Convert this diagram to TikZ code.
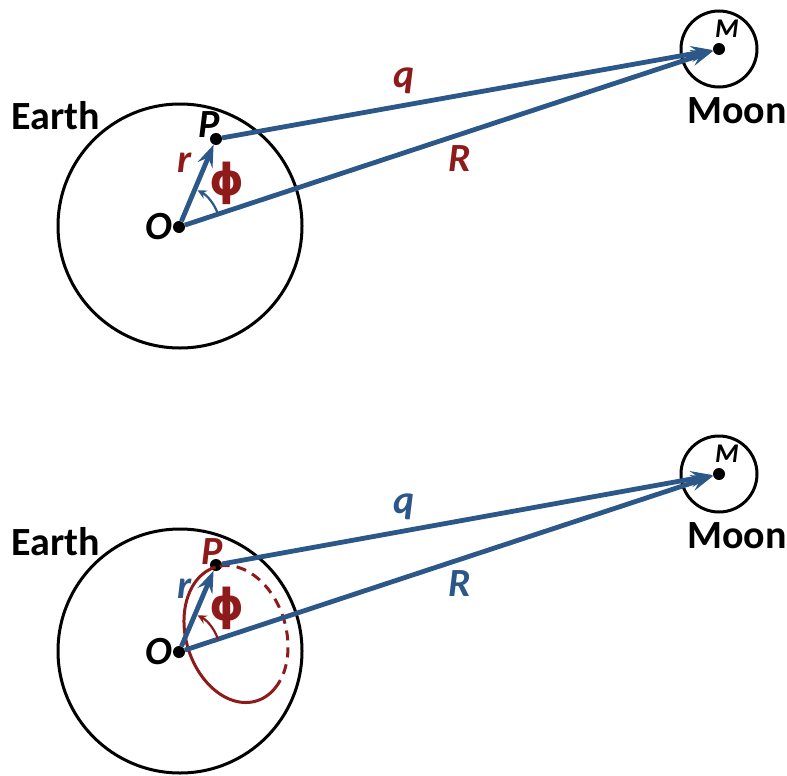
\documentclass[tikz,border=0pt]{standalone}
\usepackage{fontspec}
\setmainfont{Carlito}
\newfontfamily\greekfont{DejaVu Sans}
\usetikzlibrary{positioning,arrows.meta}
\definecolor{vec}{HTML}{2B5789}
\definecolor{ang}{HTML}{8E1A1A}

\begin{document}
\begin{tikzpicture}[x=1pt, y=1pt,
  node distance=2pt,
  dot/.style={circle, fill=black, minimum size=12pt, inner sep=0pt},
  body/.style={circle, draw, line width=3pt, inner sep=0pt},
  vecline/.style={draw=vec, line width=4.8pt, -{Stealth[length=22pt,width=16pt,inset=8pt]}},
  anglearc/.style={line width=2.2pt, -{Stealth[length=9pt,width=9pt,inset=3pt]}},
  orbit/.style={draw=ang, line width=3pt},
  bodyname/.style={font=\fontsize{40}{46}\selectfont\bfseries},
  sym/.style={font=\fontsize{40}{46}\selectfont\bfseries\itshape, inner sep=1pt},
  small/.style={font=\fontsize{27}{30}\selectfont\bfseries\itshape, inner sep=1pt},
  phi/.style={font=\greekfont\fontsize{44}{48}\selectfont\bfseries, text=ang}]
\useasboundingbox (0,0) rectangle (787,-776);
% upper sketch
\node[body, minimum size=244pt] (earth1) at (180,-226) {};
\node[body, minimum size=76pt] (moon1) at (719,-49) {};
\node[dot] (O1) at (179,-227) {};
\node[dot] (P1) at (216,-139) {};
\node[dot] (M1) at (719,-49) {};
\draw[vecline] (O1) -- node[sym, left=11pt, pos=0.76, text=ang] {r} (P1);
\draw[vecline] (P1) -- node[sym, above=8pt, pos=0.37, text=ang] {q} (M1);
\draw[vecline] (O1) -- node[sym, below=8pt, pos=0.52, text=ang] {R} (M1);
\draw[anglearc, draw=vec] (O1) ++(18.2:41) arc[start angle=18.2, end angle=63, radius=41];
\path (O1) ++(42.5:65) node[phi] {ϕ};
\node[sym, left=-1pt of O1] {O};
\node[sym, above=-6pt of P1, xshift=-7pt] {P};
\node[small, above=4pt of M1, xshift=8pt] {M};
\node[bodyname] at (56,-116) {Earth};
\node[bodyname, below=6pt of moon1, xshift=18pt] {Moon};
% lower sketch
\node[body, minimum size=244pt] (earth2) at (180,-651) {};
\node[body, minimum size=76pt] (moon2) at (719,-474) {};
\node[dot] (O2) at (179,-652) {};
\node[dot] (P2) at (216,-565) {};
\node[dot] (M2) at (719,-474) {};
\begin{scope}[shift={(236,-634)}, rotate=17]
  \draw[orbit] (90:50 and 70) arc[start angle=90, end angle=295, x radius=50, y radius=70];
  \draw[orbit, dash pattern=on 10pt off 7pt] (295:50 and 70) arc[start angle=295, end angle=450, x radius=50, y radius=70];
\end{scope}
\draw[vecline] (O2) -- node[sym, left=11pt, pos=0.76, text=vec] {r} (P2);
\draw[vecline] (P2) -- node[sym, above=8pt, pos=0.37, text=vec] {q} (M2);
\draw[vecline] (O2) -- node[sym, below=8pt, pos=0.52, text=vec] {R} (M2);
\draw[anglearc, draw=ang] (O2) ++(18.2:41) arc[start angle=18.2, end angle=63, radius=41];
\path (O2) ++(42.5:65) node[phi] {ϕ};
\node[sym, left=-1pt of O2] {O};
\node[sym, above=-7pt of P2, xshift=-4pt, text=ang] {P};
\node[small, above=4pt of M2, xshift=8pt] {M};
\node[bodyname] at (56,-542) {Earth};
\node[bodyname, below=6pt of moon2, xshift=18pt] {Moon};
\end{tikzpicture}
\end{document}
